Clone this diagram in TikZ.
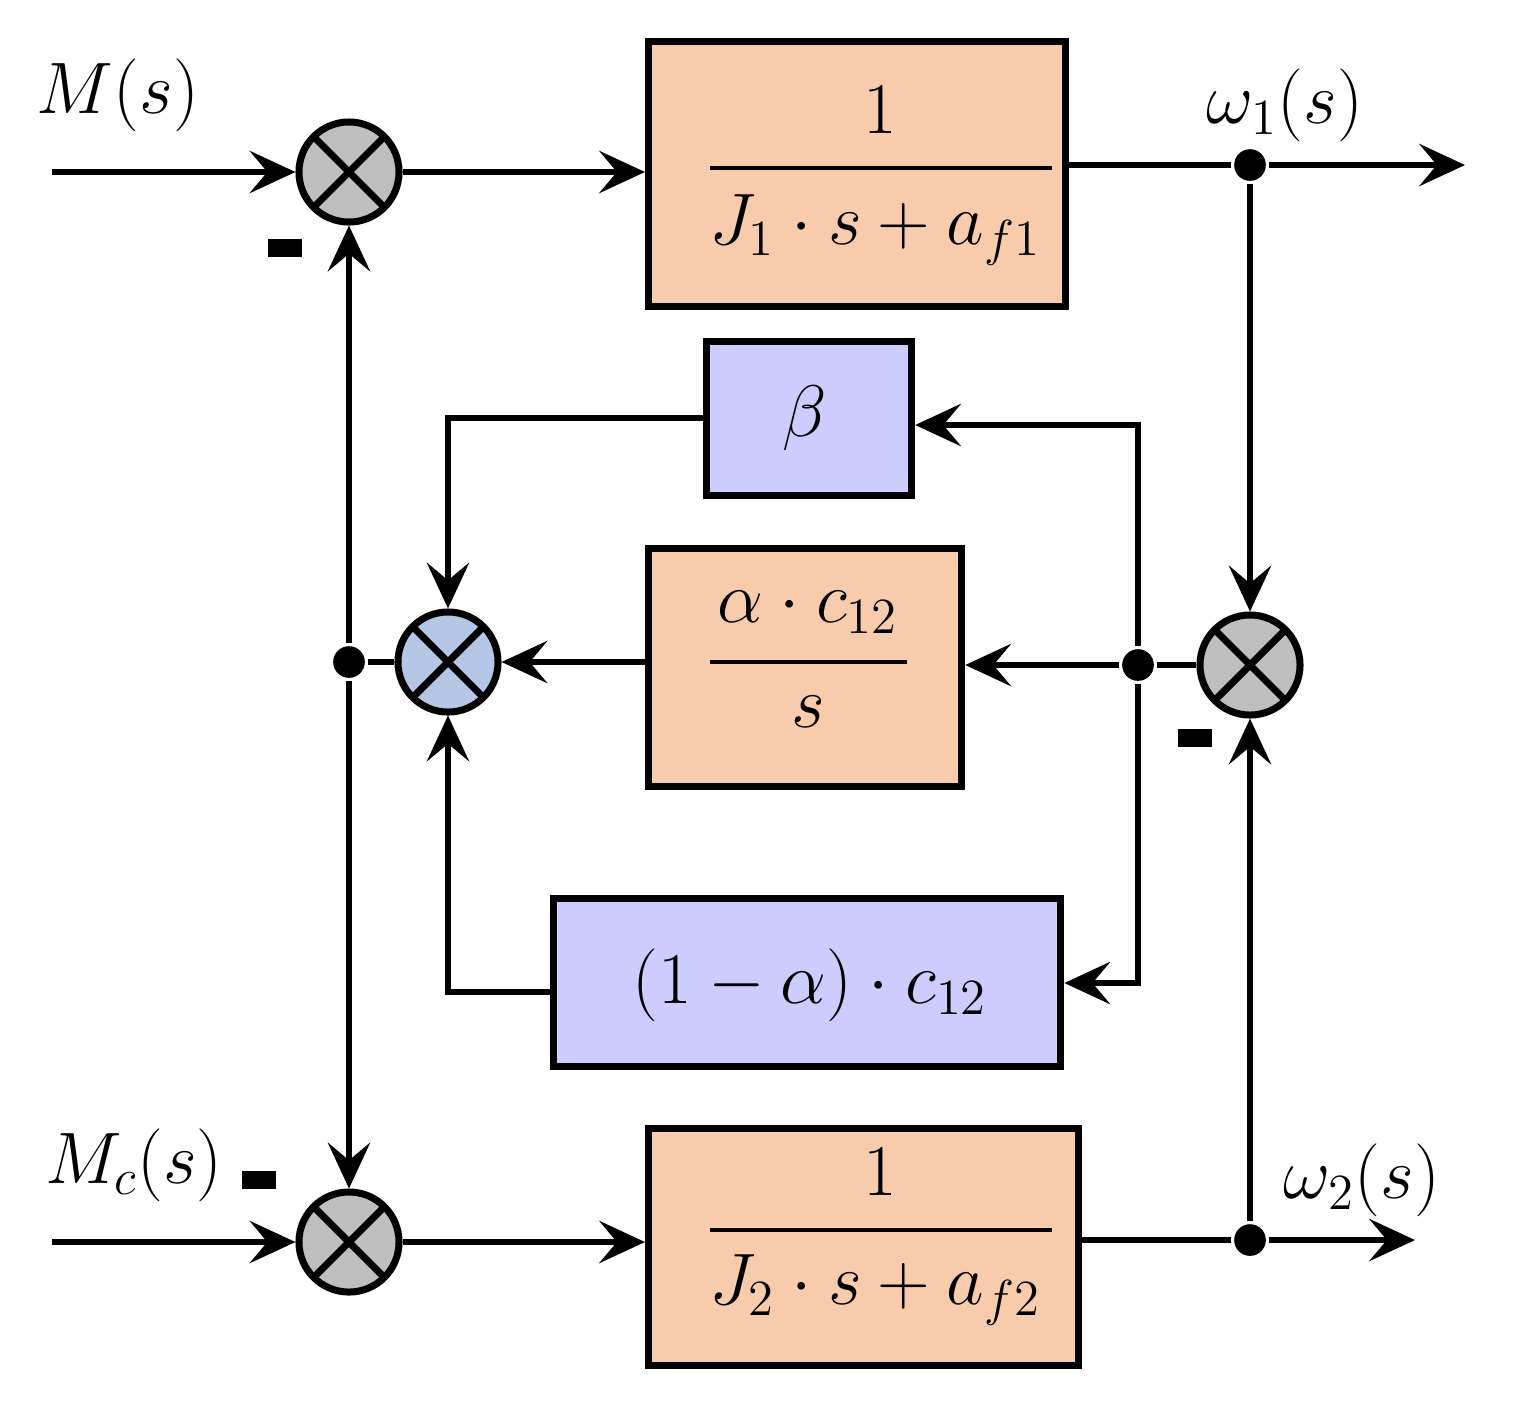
\documentclass[tikz,border=0pt]{standalone}
\usetikzlibrary{arrows.meta}
\definecolor{org}{HTML}{F8CBAD}
\definecolor{blu}{HTML}{CCCCFF}
\definecolor{gry}{HTML}{BFBFBF}
\definecolor{lb}{HTML}{B4C7E7}
\begin{document}
\begin{tikzpicture}[x=0.01cm,y=-0.01cm,line width=1.8pt,
  blk/.style={draw,line width=2pt,inner sep=0pt,anchor=north west},
  sj/.style={draw,circle,line width=2pt,minimum size=1.0cm,inner sep=0pt,path picture={\draw[line width=2pt] (path picture bounding box.north west)--(path picture bounding box.south east) (path picture bounding box.north east)--(path picture bounding box.south west);}},
  ar/.style={-{Stealth[length=13pt,width=12pt,inset=5pt]}},
  dot/.style={circle,fill,inner sep=0pt,minimum size=9pt},
  tx/.style={font=\fontsize{22}{26}\selectfont}]
\useasboundingbox (0,0) rectangle (1540,1420);
\node[blk,fill=org,minimum width=4.17cm,minimum height=2.65cm] (b1) at (645,38) {};
\node[tx] (t1a) at (880,110) {$1$};
\node[tx] (t1b) at (875,230) {$J_1\cdot s+a_{f1}$};
\draw[line width=1.2pt] (710,168)--(1052,168);
\node[blk,fill=blu,minimum width=2.05cm,minimum height=1.54cm] (bb) at (703,338) {};
\node[tx] at (805,418) {$\beta$};
\node[blk,fill=org,minimum width=3.13cm,minimum height=2.38cm] (ba) at (645,545) {};
\node[tx] (ta) at (808,612) {$\alpha\cdot c_{12}$};
\node[tx] (tb) at (808,712) {$s$};
\draw[line width=1.2pt] (710,662)--(907,662);
\node[blk,fill=blu,minimum width=5.07cm,minimum height=1.68cm] (bc) at (550,895) {};
\node[tx] at (810,985) {$(1-\alpha)\cdot c_{12}$};
\node[blk,fill=org,minimum width=4.3cm,minimum height=2.37cm] (b2) at (645,1125) {};
\node[tx] (t2a) at (880,1172) {$1$};
\node[tx] (t2b) at (875,1290) {$J_2\cdot s+a_{f2}$};
\draw[line width=1.2pt] (710,1230)--(1052,1230);
\node[sj,fill=gry] (s1) at (349,172) {};
\node[sj,fill=lb] (s2) at (448,662) {};
\node[sj,fill=gry] (s3) at (1250,665) {};
\node[sj,fill=gry] (s4) at (349,1242) {};
\node[dot] (d1) at (349,662) {};
\node[dot] (d2) at (1250,165) {};
\node[dot] (d3) at (1138,665) {};
\node[dot] (d4) at (1250,1240) {};
\coordinate (in1) at (52,172); \coordinate (in2) at (52,1242);
\coordinate (o1) at (1465,165); \coordinate (o2) at (1415,1240);
\draw[ar] (in1)--(s1.west);
\draw[ar] (in2)--(s4.west);
\draw[ar] (s1.east)--(b1.west|-s1);
\draw[ar] (s4.east)--(b2.west|-s4);
\draw (b1.east|-d2)--(d2); \draw[ar] (d2)--(o1);
\draw (b2.east|-d4)--(d4); \draw[ar] (d4)--(o2);
\draw[ar] (d2)--(s3.north);
\draw[ar] (d4)--(s3.south);
\draw[ar] (d1)--(s1.south);
\draw[ar] (d1)--(s4.north);
\draw (d1)--(s2.west);
\draw (s3.west)--(d3);
\draw[ar] (d3)--(ba.east|-d3);
\draw[ar] (ba.west|-s2)--(s2.east);
\draw[ar] (d3)--(1138,425)--(bb.east|-0,425);
\draw[ar] (d3)--(1138,983)--(bc.east|-0,983);
\draw[ar] (bb.west|-0,418)--(448,418)--(s2.north);
\draw[ar] (bc.west|-0,992)--(448,992)--(s2.south);
\node[tx] at (118,95) {$M(s)$};
\node[tx] at (1285,105) {$\omega_1(s)$};
\node[tx] at (134,1165) {$M_c(s)$};
\node[tx] at (1362,1180) {$\omega_2(s)$};
\draw[line width=5pt] (268,248)--(302,248);
\draw[line width=5pt] (242,1180)--(276,1180);
\draw[line width=5pt] (1178,738)--(1212,738);
\end{tikzpicture}
\end{document}
